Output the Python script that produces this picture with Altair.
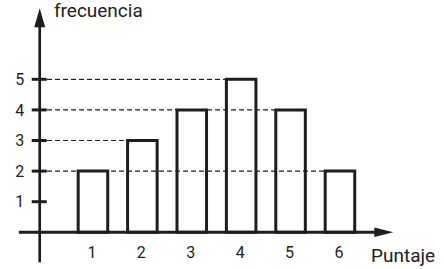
import altair as alt
import pandas as pd

# data
puntaje = [1, 2, 3, 4, 5, 6]
frecuencia = [2, 3, 4, 5, 4, 2]
y_ticks = [1, 2, 3, 4, 5]
x_title = "Puntaje"
y_title = "frecuencia"

INK = "#1e1e1e"
FONT = "Roboto"

bars = pd.DataFrame({"puntaje": puntaje, "frecuencia": frecuencia})
half = 0.299
bars["x0"] = bars["puntaje"] - half
bars["x1"] = bars["puntaje"] + half
bars["base"] = 0
bars["lab"] = bars["puntaje"].astype(str)

# dashed guide lines: from y axis to the last bar with that height
last = bars.groupby("frecuencia")["puntaje"].max().reset_index()
last["x0"] = 0.07
last["x1"] = last["puntaje"] - half

ticks = pd.DataFrame({"v": y_ticks})
ticks["a"] = -0.24
ticks["b"] = 0.064
ticks["lx"] = -0.39
ticks["lab"] = ticks["v"].astype(str)

xs = alt.Scale(domain=[-0.8818, 8.1061], nice=False, zero=False)
ys = alt.Scale(domain=[-1.1993, 7.5915], nice=False, zero=False)


def X(f):
    return alt.X(f, type="quantitative", scale=xs, axis=None)


def Y(f):
    return alt.Y(f, type="quantitative", scale=ys, axis=None)


bar_layer = alt.Chart(bars).mark_rect(fill="white", stroke=INK, strokeWidth=3).encode(
    x=X("x0"), x2="x1", y=Y("frecuencia"), y2="base"
)

dash_layer = alt.Chart(last).mark_rule(color=INK, strokeWidth=1.2, strokeDash=[5, 3]).encode(
    x=X("x0"), x2="x1", y=Y("frecuencia")
)

xaxis = alt.Chart(pd.DataFrame({"a": [-0.5], "b": [6.75], "v": [0]})).mark_rule(
    color=INK, strokeWidth=3
).encode(x=X("a"), x2="b", y=Y("v"))

yaxis = alt.Chart(pd.DataFrame({"k": [-0.078], "a": [-0.98], "b": [6.8]})).mark_rule(
    color=INK, strokeWidth=2.7
).encode(x=X("k"), y=Y("a"), y2="b")

tick_layer = alt.Chart(ticks).mark_rule(color=INK, strokeWidth=3).encode(
    x=X("a"), x2="b", y=Y("v")
)

ylab = alt.Chart(ticks).mark_text(
    align="right", baseline="alphabetic", dy=5.7, fontSize=16, font=FONT, color="#222"
).encode(x=X("lx"), y=Y("v"), text="lab:N")

xlab = alt.Chart(bars).mark_text(
    align="center", baseline="alphabetic", dy=26, dx=-1, fontSize=16, font=FONT, color="#222"
).encode(x=X("puntaje"), y=Y("base"), text="lab:N")

up_arrow = alt.Chart(pd.DataFrame({"k": [-0.078], "v": [6.993]})).mark_point(
    shape="M0,-1L0.55,0.9L-0.55,0.9Z", size=400, filled=True, fill=INK, opacity=1, strokeWidth=0
).encode(x=X("k"), y=Y("v"))

right_arrow = alt.Chart(pd.DataFrame({"k": [6.878], "v": [0]})).mark_point(
    shape="M1,0L-0.9,0.48L-0.9,-0.48Z", size=400, filled=True, fill=INK, opacity=1, strokeWidth=0
).encode(x=X("k"), y=Y("v"))

ytitle = alt.Chart(pd.DataFrame({"t": [y_title], "k": [0.21], "v": [7.046]})).mark_text(
    align="left", baseline="alphabetic", fontSize=19, font=FONT, color="#222"
).encode(x=X("k"), y=Y("v"), text="t:N")

xtitle = alt.Chart(pd.DataFrame({"t": [x_title], "k": [6.628], "v": [-0.961]})).mark_text(
    align="left", baseline="alphabetic", fontSize=19, font=FONT, color="#222"
).encode(x=X("k"), y=Y("v"), text="t:N")

chart = alt.layer(
    bar_layer, dash_layer, xaxis, yaxis, tick_layer, ylab, xlab,
    up_arrow, right_arrow, ytitle, xtitle
).properties(
    width=444, height=269, padding=0, autosize=alt.AutoSizeParams(type="none"),
    background="white"
).configure_view(stroke=None)

chart.save("out.html", embed_options={"renderer": "svg", "actions": False})
